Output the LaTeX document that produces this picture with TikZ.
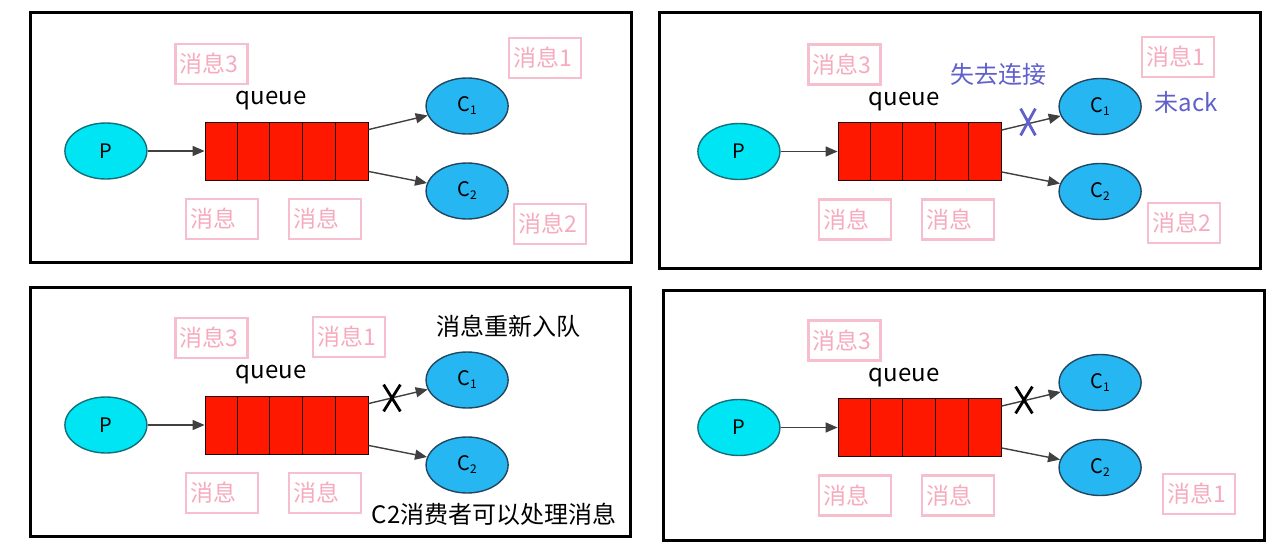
\documentclass[tikz,border=0pt]{standalone}
\usepackage{fontspec}
\setmainfont{Noto Sans CJK SC}
\usetikzlibrary{positioning}
\usetikzlibrary{shapes.geometric}
\usetikzlibrary{shapes.misc}
\usetikzlibrary{arrows.meta}

\definecolor{prodcyan}{RGB}{0,229,244}
\definecolor{prodedge}{RGB}{20,110,120}
\definecolor{consblue}{RGB}{38,182,242}
\definecolor{consedge}{RGB}{35,70,95}
\definecolor{queuered}{RGB}{255,24,0}
\definecolor{msgpink}{RGB}{247,190,205}
\definecolor{msgtext}{RGB}{246,170,190}
\definecolor{notice}{RGB}{95,95,205}

\newcommand{\csub}[1]{C\raisebox{-1.5pt}{\fontsize{6}{6}\selectfont #1}}

\begin{document}
\begin{tikzpicture}[x=0.5pt, y=-0.5pt,
    panel/.style={draw, line width=1.5pt},
    prod/.style={ellipse, draw=prodedge, line width=0.7pt, fill=prodcyan, minimum width=41pt, minimum height=28pt, inner sep=0pt, font=\fontsize{10}{12}\selectfont},
    cons/.style={ellipse, draw=consedge, line width=0.7pt, fill=consblue, minimum width=41pt, minimum height=28pt, inner sep=0pt, font=\fontsize{10}{12}\selectfont},
    qbox/.style={rectangle, draw=black!85!red, fill=queuered, minimum width=81.5pt, minimum height=29pt, inner sep=0pt},
    msg/.style={draw=msgpink, line width=1.2pt, text=msgtext, text width=32pt, align=left, minimum height=20pt, inner xsep=2pt, inner ysep=0pt, font=\fontsize{11.5}{13}\selectfont},
    arrow/.style={-{Triangle[length=6pt,width=5pt]}, line width=0.7pt, draw=black!75},
    cut/.style={cross out, draw, line width=1.4pt, minimum width=7pt, minimum height=12pt, inner sep=0pt},
    note/.style={font=\fontsize{12}{14}\selectfont}
]
\useasboundingbox (0,0) rectangle (1285,557);

% Panels
\draw[panel] (30,12) rectangle (631,262);
\draw[panel] (659,12) rectangle (1260,268);
\draw[panel] (30,287) rectangle (630,536);
\draw[panel] (663,290) rectangle (1264,540);

% Queue, producer and consumers
\foreach \i/\qx/\qy in {1/286.5/151, 2/919.5/151.5, 3/286.5/425, 4/919.5/427.5} {
  \node[qbox] (queue\i) at (\qx,\qy) {};
  \foreach \k in {1,...,4}
    \draw[draw=black!85!red] ([xshift=\k*16.3pt]queue\i.north west) -- ([xshift=\k*16.3pt]queue\i.south west);
  \node[prod] (prod\i) [left=28.5pt of queue\i] {P};
  \node[cons] (consA\i) [right=28.5pt of queue\i, yshift=22.5pt] {\csub{1}};
  \node[cons] (consB\i) [right=28.5pt of queue\i, yshift=-20pt] {\csub{2}};
  \node[font=\fontsize{12}{14}\selectfont] (qname\i) at ([shift={(-15.5,-50)}]queue\i.center) {queue};
  \node[msg] (old\i) at ([shift={(-75,-87)}]queue\i.center) {消息3};
  \node[msg] (msgA\i) at ([shift={(-64.5,68)}]queue\i.center) {消息};
  \node[msg] (msgB\i) at ([shift={(38.5,68)}]queue\i.center) {消息};
  \draw[arrow] (prod\i) -- (queue\i);
  \draw[arrow] ([yshift=-4pt]queue\i.north east) -- (consA\i);
  \draw[arrow] ([yshift=4.5pt]queue\i.south east) -- (consB\i);
}

% Panel 1
\node[msg] (new1) at (545,58) {消息1};
\node[msg] (left1) at (550,224) {消息2};

% Panel 2
\node[msg] (new2) at (1178,57) {消息1};
\node[msg] (left2) at (1184,223) {消息2};
\node[note, text=notice] (lost) at (998,74) {失去连接};
\node[note, text=notice] (noack) at (1186,102) {未ack};
\node[cut, draw=notice, minimum width=6pt] (cut2) at (1028,122) {};

% Panel 3
\node[msg] (new3) at (349,337) {消息1};
\node[note] (requeue) at (508,326) {消息重新入队};
\node[note] (handle) at (494,514) {C2消费者可以处理消息};
\node[cut] (cut3) at (392,398) {};

% Panel 4
\node[msg] (new4) at (1199,494) {消息1};
\node[cut] (cut4) at (1024,400) {};

\end{tikzpicture}
\end{document}
